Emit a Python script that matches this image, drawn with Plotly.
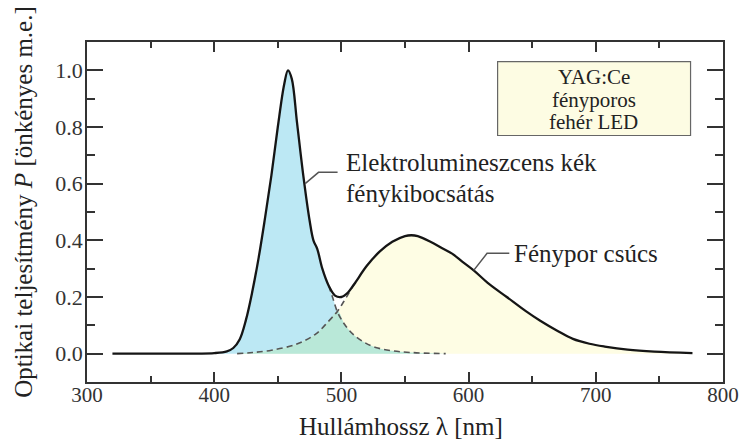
import plotly.graph_objects as go

# ---- data ----
wl_total = [320, 360, 400, 410, 415, 420, 425, 430, 435, 440, 445, 450, 455, 458, 461, 465, 470,
            475, 478, 481, 485, 490, 495, 500, 505, 510, 520, 530, 540, 550, 555, 560, 570, 580,
            587, 595, 604, 615, 630, 645, 656, 670, 682, 695, 707, 725, 746, 776]
p_total = [0.0, 0.0, 0.002, 0.008, 0.02, 0.05, 0.12, 0.22, 0.34, 0.48, 0.63, 0.80, 0.95, 1.0, 0.97,
           0.82, 0.63, 0.47, 0.40, 0.37, 0.30, 0.24, 0.205, 0.20, 0.215, 0.245, 0.31, 0.36, 0.395,
           0.415, 0.418, 0.415, 0.395, 0.37, 0.353, 0.325, 0.294, 0.25, 0.20, 0.15, 0.117, 0.08,
           0.052, 0.035, 0.025, 0.014, 0.007, 0.002]

# blue (electroluminescent) component tail, dashed part
wl_blue_tail = [490, 493, 497, 503, 510, 518, 527, 540, 555, 582]
p_blue_tail = [0.24, 0.20, 0.146, 0.10, 0.065, 0.04, 0.022, 0.01, 0.004, 0.0]

# phosphor component head, dashed part
wl_phos_head = [418, 430, 445, 465, 480, 490, 497, 502, 506, 510]
p_phos_head = [0.0, 0.004, 0.012, 0.034, 0.07, 0.115, 0.15, 0.185, 0.215, 0.245]

x_ticks = [300, 400, 500, 600, 700, 800]
y_ticks = [0.0, 0.2, 0.4, 0.6, 0.8, 1.0]
y_ticktext = ["0.0", "0.2", "0.4", "0.6", "0.8", "1.0"]

box_lines = ["YAG:Ce", "fényporos", "fehér LED"]
blue_label = ["Elektrolumineszcens kék", "fénykibocsátás"]
phos_label = "Fénypor csúcs"
x_title = "Hullámhossz λ [nm]"
y_title = "Optikai teljesítmény <i>P</i> [önkényes m.e.]"

CROSS = 497
BLUE_SPLIT = 490
PHOS_SPLIT = 510

# ---- derived shapes from the data ----
blue_x = [w for w in wl_total if w < BLUE_SPLIT] + wl_blue_tail
blue_y = [p for w, p in zip(wl_total, p_total) if w < BLUE_SPLIT] + p_blue_tail
phos_x = wl_phos_head + [w for w in wl_total if w > PHOS_SPLIT]
phos_y = p_phos_head + [p for w, p in zip(wl_total, p_total) if w > PHOS_SPLIT]
ov_x = [w for w in wl_phos_head if w <= CROSS] + [w for w in wl_blue_tail if w > CROSS]
ov_y = [p for w, p in zip(wl_phos_head, p_phos_head) if w <= CROSS] + \
       [p for w, p in zip(wl_blue_tail, p_blue_tail) if w > CROSS]

FONT = "Liberation Serif"
BLUE = "#bce8f4"
YELLOW = "#fefde4"
GREEN = "#b9e8d8"

fig = go.Figure()
fig.add_trace(go.Scatter(x=blue_x, y=blue_y, mode="lines", line=dict(width=0, shape="spline"),
                         fill="tozeroy", fillcolor=BLUE, hoverinfo="skip"))
fig.add_trace(go.Scatter(x=phos_x, y=phos_y, mode="lines", line=dict(width=0, shape="spline"),
                         fill="tozeroy", fillcolor=YELLOW, hoverinfo="skip"))
fig.add_trace(go.Scatter(x=ov_x, y=ov_y, mode="lines", line=dict(width=0, shape="spline"),
                         fill="tozeroy", fillcolor=GREEN, hoverinfo="skip"))
fig.add_trace(go.Scatter(x=wl_blue_tail, y=p_blue_tail, mode="lines",
                         line=dict(color="#555555", width=1.6, dash="6px,4px", shape="spline")))
fig.add_trace(go.Scatter(x=wl_phos_head, y=p_phos_head, mode="lines",
                         line=dict(color="#555555", width=1.6, dash="6px,4px", shape="spline")))
fig.add_trace(go.Scatter(x=wl_total, y=p_total, mode="lines",
                         line=dict(color="#151515", width=2.3, shape="spline")))

# leader lines
fig.add_trace(go.Scatter(x=[471.5, 482, 497], y=[0.60, 0.64, 0.64], mode="lines",
                         line=dict(color="#555555", width=1.5)))
fig.add_trace(go.Scatter(x=[604, 614.5, 632], y=[0.294, 0.354, 0.354], mode="lines",
                         line=dict(color="#555555", width=1.5)))

# legend-like box
fig.add_shape(type="rect", x0=622.8, x1=774.5, y0=0.77, y1=1.031, xref="x", yref="y",
              fillcolor="#fdfce3", line=dict(color="#666666", width=1.2), layer="below")

ann = []
for txt, yy in zip(box_lines, [0.977, 0.897, 0.817]):
    ann.append(dict(x=698.4, y=yy, xref="x", yref="y", text=txt, showarrow=False,
                    xanchor="center", yanchor="middle", font=dict(family=FONT, size=21, color="#222")))
for txt, yy in zip(blue_label, [0.674, 0.567]):
    ann.append(dict(x=502, y=yy, xref="x", yref="y", text=txt, showarrow=False,
                    xanchor="left", yanchor="middle", font=dict(family=FONT, size=25, color="#222")))
ann.append(dict(x=634.5, y=0.354, xref="x", yref="y", text=phos_label, showarrow=False,
                xanchor="left", yanchor="middle", font=dict(family=FONT, size=25, color="#222")))
ann.append(dict(x=0.493, y=-0.13, xref="paper", yref="paper", text=x_title, showarrow=False,
                xanchor="center", yanchor="middle", font=dict(family=FONT, size=25, color="#222")))
ann.append(dict(x=-0.099, y=0.53, xref="paper", yref="paper", text=y_title, showarrow=False,
                textangle=-90, xanchor="center", yanchor="middle",
                font=dict(family=FONT, size=25, color="#222")))

fig.update_layout(
    width=751, height=443, margin=dict(l=87, r=18, t=42, b=61),
    paper_bgcolor="white", plot_bgcolor="white", showlegend=False,
    annotations=ann,
    font=dict(family=FONT, size=22, color="#333"),
)
fig.update_xaxes(range=[300, 800], tickvals=x_ticks, ticks="inside", ticklen=10, tickwidth=1.5,
                 tickcolor="#333", showline=True, linecolor="#333", linewidth=1.6, mirror="ticks",
                 showgrid=False, zeroline=False, ticklabelstandoff=-7,
                 minor=dict(dtick=50, ticks="inside", ticklen=6, tickwidth=1.5, tickcolor="#333", showgrid=False),
                 tickfont=dict(family=FONT, size=21, color="#333"))
fig.update_yaxes(range=[-0.1, 1.1], tickvals=y_ticks, ticktext=y_ticktext, ticks="inside", ticklen=16,
                 tickwidth=1.5, tickcolor="#333", showline=True, linecolor="#333", linewidth=1.6,
                 mirror="ticks", showgrid=False, zeroline=False, ticklabelstandoff=-2,
                 minor=dict(tickvals=[-0.1, 0.1, 0.3, 0.5, 0.7, 0.9, 1.1], ticks="inside", ticklen=8,
                            tickwidth=1.5, tickcolor="#333", showgrid=False),
                 tickfont=dict(family=FONT, size=22, color="#333"))

fig.write_html("out.html")
